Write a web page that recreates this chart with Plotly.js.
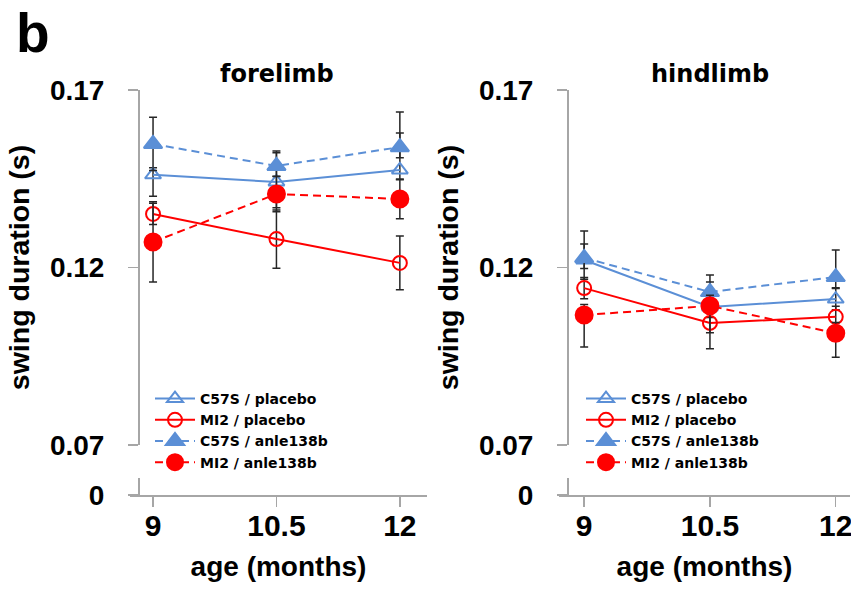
<!DOCTYPE html>
<html>
<head>
<meta charset="utf-8">
<script src="https://cdn.plot.ly/plotly-3.0.1.min.js"></script>
<style>html,body{margin:0;padding:0;background:#fff;}#chart{width:851px;height:590px;}</style>
</head>
<body>
<div id="chart"></div>
<script>
// ---- data ----
const ages = [9, 10.5, 12];
const ageTickText = ['9', '10.5', '12'];
const yTickVals = [0.07, 0.12, 0.17];
const yTickText = ['0.07', '0.12', '0.17'];
const seriesNames = ['C57S / placebo', 'MI2 / placebo', 'C57S / anle138b', 'MI2 / anle138b'];

// forelimb
const foreC57sPlacebo = [0.1461, 0.1441, 0.1475];
const foreC57sPlaceboUp = [0.002, 0.0082, 0.0104];
const foreC57sPlaceboDn = [0.006, 0.0073, 0.0028];
const foreMi2Placebo = [0.1351, 0.1280, 0.1213];
const foreMi2PlaceboUp = [0.003, 0.0082, 0.0076];
const foreMi2PlaceboDn = [0.003, 0.0082, 0.0076];
const foreC57sAnle = [0.1548, 0.1486, 0.1539];
const foreC57sAnleUp = [0.0075, 0.0042, 0.0099];
const foreC57sAnleDn = [0.0075, 0.003, 0.003];
const foreMi2Anle = [0.1272, 0.1407, 0.1393];
const foreMi2AnleUp = [0.0113, 0.005, 0.0056];
const foreMi2AnleDn = [0.0113, 0.005, 0.0056];

// hindlimb
const hindC57sPlacebo = [0.1221, 0.1089, 0.1111];
const hindC57sPlaceboUp = [0.0045, 0.007, 0.003];
const hindC57sPlaceboDn = [0.0054, 0.003, 0.003];
const hindMi2Placebo = [0.1142, 0.1044, 0.1061];
const hindMi2PlaceboUp = [0.003, 0.003, 0.003];
const hindMi2PlaceboDn = [0.003, 0.0073, 0.003];
const hindC57sAnle = [0.1227, 0.1131, 0.1173];
const hindC57sAnleUp = [0.0076, 0.0048, 0.0076];
const hindC57sAnleDn = [0.003, 0.003, 0.003];
const hindMi2Anle = [0.1066, 0.1092, 0.1015];
const hindMi2AnleUp = [0.003, 0.003, 0.003];
const hindMi2AnleDn = [0.009, 0.0076, 0.0068];

// ---- styles ----
const BLUE = '#5b8fd6';
const RED = '#ff0000';
const ERR = '#262626';
const AXC = '#a6a6a6';
const ARIAL = 'Liberation Sans, Arial, sans-serif';
const VERD = 'DejaVu Sans, Verdana, sans-serif';

const styles = [
  {color: BLUE, dash: 'solid', symbol: 'triangle-up-open', size: 14},
  {color: RED, dash: 'solid', symbol: 'circle-open', size: 14},
  {color: BLUE, dash: '8px,5px', symbol: 'triangle-up', size: 16},
  {color: RED, dash: '8px,5px', symbol: 'circle', size: 17}
];

function mk(i, y, up, dn, xa, ya, leg) {
  const s = styles[i];
  return {
    type: 'scatter', mode: 'lines+markers', name: seriesNames[i],
    x: ages, y: y, xaxis: xa, yaxis: ya, legend: leg,
    line: {color: s.color, width: 2, dash: s.dash},
    marker: {color: s.color, symbol: s.symbol, size: s.size, line: {color: s.color, width: 2}},
    error_y: {type: 'data', symmetric: false, array: up, arrayminus: dn, color: ERR, thickness: 1.5, width: 4}
  };
}
// empty traces that only register the lower (broken-axis) subplots
function stub(xa, ya) {
  return {type: 'scatter', mode: 'markers', x: [], y: [], xaxis: xa, yaxis: ya, showlegend: false, hoverinfo: 'skip'};
}

const data = [
  stub('x', 'y2'),
  stub('x2', 'y4'),
  mk(0, foreC57sPlacebo, foreC57sPlaceboUp, foreC57sPlaceboDn, 'x', 'y', 'legend'),
  mk(1, foreMi2Placebo, foreMi2PlaceboUp, foreMi2PlaceboDn, 'x', 'y', 'legend'),
  mk(2, foreC57sAnle, foreC57sAnleUp, foreC57sAnleDn, 'x', 'y', 'legend'),
  mk(3, foreMi2Anle, foreMi2AnleUp, foreMi2AnleDn, 'x', 'y', 'legend'),
  mk(0, hindC57sPlacebo, hindC57sPlaceboUp, hindC57sPlaceboDn, 'x2', 'y3', 'legend2'),
  mk(1, hindMi2Placebo, hindMi2PlaceboUp, hindMi2PlaceboDn, 'x2', 'y3', 'legend2'),
  mk(2, hindC57sAnle, hindC57sAnleUp, hindC57sAnleDn, 'x2', 'y3', 'legend2'),
  mk(3, hindMi2Anle, hindMi2AnleUp, hindMi2AnleDn, 'x2', 'y3', 'legend2')
];

const W = 851, H = 590;
const px = v => v / W;
const py = v => 1 - v / H;

function xAx(d0, d1, r0, r1, anchor) {
  return {
    domain: [px(d0), px(d1)], range: [r0, r1], anchor: anchor,
    tickvals: ages, ticktext: ageTickText,
    ticks: 'outside', ticklen: 10, tickwidth: 1.5, tickcolor: AXC,
    showline: true, linecolor: AXC, linewidth: 1.5,
    showgrid: false, zeroline: false, ticklabelstandoff: -7, ticklabeloverflow: 'allow',
    tickfont: {family: ARIAL, size: 30, weight: 'bold', color: '#000'},
    title: {text: 'age (months)', standoff: 16, font: {family: ARIAL, size: 28, weight: 'bold', color: '#000'}}
  };
}
function yUp(pos) {
  return {
    domain: [py(445), py(90)], range: [0.07, 0.17], anchor: 'free', position: px(pos),
    tickvals: yTickVals, ticktext: yTickText,
    ticks: 'outside', ticklen: 10, tickwidth: 1.5, tickcolor: AXC,
    showline: true, linecolor: AXC, linewidth: 1.5,
    showgrid: false, zeroline: false, ticklabelstandoff: 18,
    tickfont: {family: ARIAL, size: 28, weight: 'bold', color: '#000'},
    title: {text: 'swing duration (s)', standoff: 10, font: {family: ARIAL, size: 28.5, weight: 'bold', color: '#000'}}
  };
}
function yLow(pos) {
  return {
    domain: [py(495), py(478)], range: [0, 0.01], anchor: 'free', position: px(pos),
    tickvals: [0], ticktext: ['0'],
    ticks: 'outside', ticklen: 10, tickwidth: 1.5, tickcolor: AXC,
    showline: true, linecolor: AXC, linewidth: 1.5,
    showgrid: false, zeroline: false, ticklabelstandoff: 18,
    tickfont: {family: ARIAL, size: 28, weight: 'bold', color: '#000'}
  };
}

const legendBase = {
  bgcolor: 'rgba(0,0,0,0)', borderwidth: 0,
  font: {family: VERD, size: 14, weight: 'bold', color: '#000'},
  xanchor: 'left', yanchor: 'top', tracegroupgap: 0, itemwidth: 40
};

const layout = {
  width: W, height: H,
  margin: {l: 0, r: 0, t: 0, b: 0},
  paper_bgcolor: '#fff', plot_bgcolor: 'rgba(0,0,0,0)',
  showlegend: true,
  xaxis: xAx(130, 427, 8.72, 12.33, 'y2'),
  xaxis2: xAx(559, 850, 8.70, 12.17, 'y4'),
  yaxis: yUp(138),
  yaxis2: yLow(138),
  yaxis3: yUp(567),
  yaxis4: yLow(567),
  legend: Object.assign({}, legendBase, {x: px(150), y: py(383)}),
  legend2: Object.assign({}, legendBase, {x: px(581), y: py(383)}),
  annotations: [
    {text: 'b', xref: 'paper', yref: 'paper', x: px(14), y: py(0), xanchor: 'left', yanchor: 'top', showarrow: false,
     font: {family: ARIAL, size: 55, weight: 'bold', color: '#000'}},
    {text: 'forelimb', xref: 'paper', yref: 'paper', x: px(277), y: py(74), xanchor: 'center', yanchor: 'middle', showarrow: false,
     font: {family: VERD, size: 24, weight: 'bold', color: '#000'}},
    {text: 'hindlimb', xref: 'paper', yref: 'paper', x: px(710), y: py(74), xanchor: 'center', yanchor: 'middle', showarrow: false,
     font: {family: VERD, size: 24, weight: 'bold', color: '#000'}}
  ]
};

Plotly.newPlot('chart', data, layout, {staticPlot: true, displayModeBar: false});
</script>
</body>
</html>
